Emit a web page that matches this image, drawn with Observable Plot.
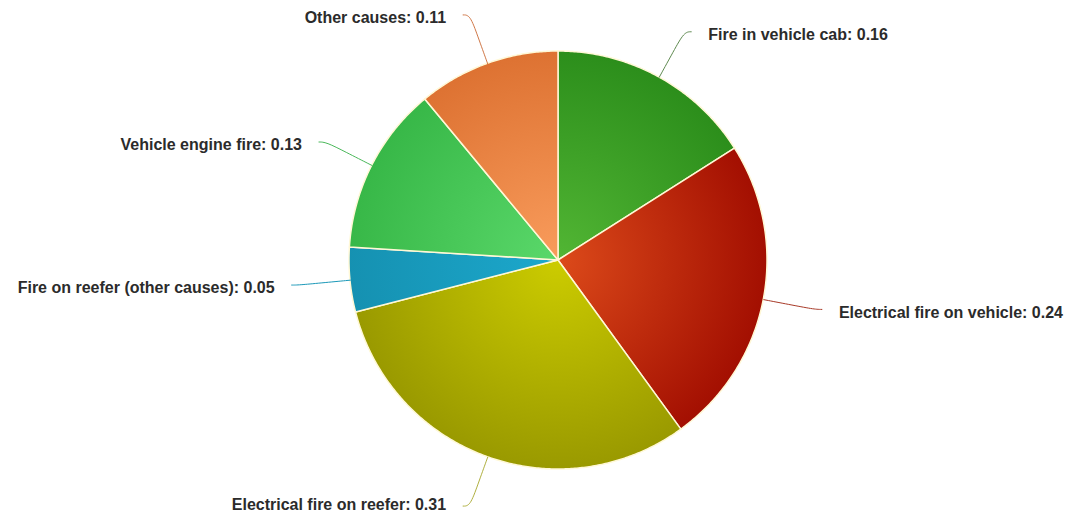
<!DOCTYPE html>
<html><head><meta charset="utf-8">
<script src="https://cdn.jsdelivr.net/npm/d3@7"></script>
<script src="https://cdn.jsdelivr.net/npm/@observablehq/plot@0.6"></script>
<style>html,body{margin:0;padding:0;background:#fff}svg{display:block}</style>
</head><body><div id="chart"></div>
<script>
const categories = ["Fire in vehicle cab", "Electrical fire on vehicle", "Electrical fire on reefer", "Fire on reefer (other causes)", "Vehicle engine fire", "Other causes"];
const values = [0.16, 0.24, 0.31, 0.05, 0.13, 0.11];
const innerColors = ["#52b634", "#dc4a1a", "#cccc00", "#1ca8cc", "#5ad86a", "#f99c5c"];
const outerColors = ["#2a8c1a", "#a00c00", "#979700", "#1590b0", "#36b646", "#dc7030"];
const lineColors = ["#5f8a50", "#a83a28", "#b0b040", "#1a98b8", "#4ab85a", "#d07848"];

const W = 1073, H = 515, CX = 558, CY = 260, R = 209;
const pie = d3.pie().sort(null).value(d => d)(values);

const sliceRows = [];
const connRows = [];
const labelRows = [];
pie.forEach((p, i) => {
  const n = Math.max(4, Math.ceil((p.endAngle - p.startAngle) / (Math.PI / 360)));
  for (let k = 0; k <= n; k++) {
    const a = p.startAngle + (p.endAngle - p.startAngle) * k / n;
    sliceRows.push({i, x: R * Math.sin(a), y: -R * Math.cos(a), x0: 0, y0: 0});
  }
  const m = (p.startAngle + p.endAngle) / 2;
  const s = Math.sin(m) >= 0 ? 1 : -1;
  const bx = (R + 52) * Math.sin(m), by = -(R + 52) * Math.cos(m);
  connRows.push({i, x: R * Math.sin(m), y: -R * Math.cos(m)});
  connRows.push({i, x: (R + 30) * Math.sin(m), y: -(R + 30) * Math.cos(m)});
  connRows.push({i, x: bx, y: by});
  connRows.push({i, x: bx + s * 7, y: by});
  labelRows.push({i, side: s, x: bx + s * 7, y: Math.min(by, H - CY - 14), text: `${categories[i]}: ${values[i].toFixed(2)}`});
});

const textStyle = {fontSize: 16, fontWeight: "bold", fontFamily: "'Liberation Sans', Arial, sans-serif", fill: "#2b2b2b", dy: 3};

const plot = Plot.plot({
  width: W, height: H,
  margin: 0,
  x: {domain: [-CX, W - CX], range: [0, W], axis: null},
  y: {domain: [-CY, H - CY], range: [0, H], axis: null},
  color: {type: "identity"},
  marks: [
    Plot.area(sliceRows, {x1: "x", y1: "y", x2: "x0", y2: "y0", z: "i", fill: d => `url(#grad${d.i})`, stroke: "#fff8d6", strokeWidth: 1.5, strokeLinejoin: "round"}),
    Plot.line(connRows, {x: "x", y: "y", z: "i", stroke: d => lineColors[d.i], strokeWidth: 1, curve: "basis"}),
    Plot.text(labelRows.filter(d => d.side > 0), {x: "x", y: "y", text: "text", textAnchor: "start", dx: 17, ...textStyle}),
    Plot.text(labelRows.filter(d => d.side < 0), {x: "x", y: "y", text: "text", textAnchor: "end", dx: -17, ...textStyle})
  ]
});

const xs = plot.scale("x"), ys = plot.scale("y");
const cx = xs.apply(0), cy = ys.apply(0), rr = xs.apply(R) - xs.apply(0);
const defs = d3.select(plot).insert("defs", ":first-child");
values.forEach((v, i) => {
  const g = defs.append("radialGradient").attr("id", `grad${i}`).attr("gradientUnits", "userSpaceOnUse")
    .attr("cx", cx).attr("cy", cy).attr("r", rr * 1.05);
  g.append("stop").attr("offset", 0).attr("stop-color", innerColors[i]);
  g.append("stop").attr("offset", 1).attr("stop-color", outerColors[i]);
});
document.getElementById("chart").appendChild(plot);
</script>
</body></html>
